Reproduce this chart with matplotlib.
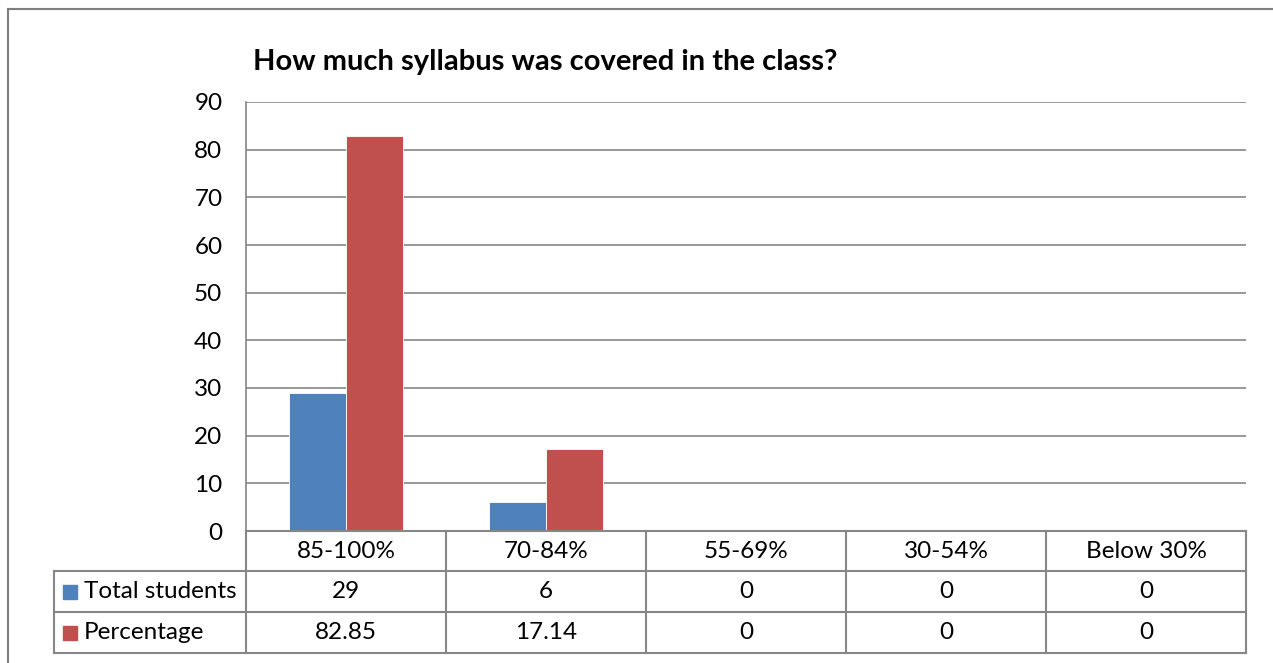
import numpy as np
import matplotlib.pyplot as plt
from matplotlib.lines import Line2D
from matplotlib.patches import Rectangle

# data
categories = ["85-100%", "70-84%", "55-69%", "30-54%", "Below 30%"]
total_students = [29, 6, 0, 0, 0]
percentage = [82.85, 17.14, 0, 0, 0]
pct_labels = ["82.85", "17.14", "0", "0", "0"]
series_names = ["Total students", "Percentage"]
colors = ["#4F81BD", "#C0504D"]

plt.rcParams['font.family'] = ['Lato', 'DejaVu Sans']

W, H = 1273, 663
fig = plt.figure(figsize=(W / 100, H / 100), dpi=100)

def fx(px):
    return px / W

def fy(py):
    return 1 - py / H

FS = 17.5

# plot area in pixels
L, R, T, B = 246, 1246, 102, 531
ax = fig.add_axes([fx(L), fy(B), fx(R) - fx(L), fy(T) - fy(B)])

x = np.arange(len(categories))
w = 0.285
ax.bar(x - w / 2, total_students, w, color=colors[0], edgecolor="white", linewidth=0.6, zorder=3)
ax.bar(x + w / 2, percentage, w, color=colors[1], edgecolor="white", linewidth=0.6, zorder=3)

ax.set_xlim(-0.5, len(categories) - 0.5)
ax.set_ylim(0, 90)
ax.set_yticks(range(0, 91, 10))
ax.set_xticks([])
ax.yaxis.grid(True, color="#868686", linewidth=1.2, zorder=0)
ax.tick_params(axis="y", length=0, pad=17, labelsize=FS)
for s in ["top", "right"]:
    ax.spines[s].set_visible(False)
ax.spines["left"].set_color("#868686")
ax.spines["bottom"].set_color("#868686")
ax.spines["left"].set_linewidth(1.2)
ax.spines["bottom"].set_linewidth(1.2)

# title
fig.text(fx(253), fy(62), "How much syllabus was covered in the class?",
         fontsize=21, fontweight="bold", ha="left", va="center")

# data table below the plot
gc = "#868686"
lw = 1.5
rows_y = [531, 571, 612, 653]
col_x = [L + i * 200 for i in range(len(categories) + 1)]
left_x = 54

def hline(x0, x1, y):
    fig.add_artist(Line2D([fx(x0), fx(x1)], [fy(y), fy(y)], color=gc, lw=lw))

def vline(x0, y0, y1):
    fig.add_artist(Line2D([fx(x0), fx(x0)], [fy(y0), fy(y1)], color=gc, lw=lw))

hline(L, R, rows_y[0])
for y in rows_y[1:]:
    hline(left_x, R, y)
for cx in col_x:
    vline(cx, rows_y[0], rows_y[3])
vline(left_x, rows_y[1], rows_y[3])

for i, c in enumerate(categories):
    cxm = (col_x[i] + col_x[i + 1]) / 2
    fig.text(fx(cxm), fy((rows_y[0] + rows_y[1]) / 2), c, fontsize=FS, ha="center", va="center")
    fig.text(fx(cxm), fy((rows_y[1] + rows_y[2]) / 2), str(total_students[i]), fontsize=FS, ha="center", va="center")
    fig.text(fx(cxm), fy((rows_y[2] + rows_y[3]) / 2), pct_labels[i], fontsize=FS, ha="center", va="center")

for j, (name, col) in enumerate(zip(series_names, colors)):
    yc = (rows_y[j + 1] + rows_y[j + 2]) / 2
    fig.add_artist(Rectangle((fx(63), fy(yc + 7)), fx(14), fy(yc - 7) - fy(yc + 7), color=col))
    fig.text(fx(84), fy(yc), name, fontsize=FS, ha="left", va="center")

# outer chart border
fig.add_artist(Line2D([fx(8), fx(8)], [fy(9), 0], color="#7F7F7F", lw=1.5))
fig.add_artist(Line2D([fx(8), 1], [fy(9), fy(9)], color="#7F7F7F", lw=1.5))

fig.savefig("out.png", dpi=100)
